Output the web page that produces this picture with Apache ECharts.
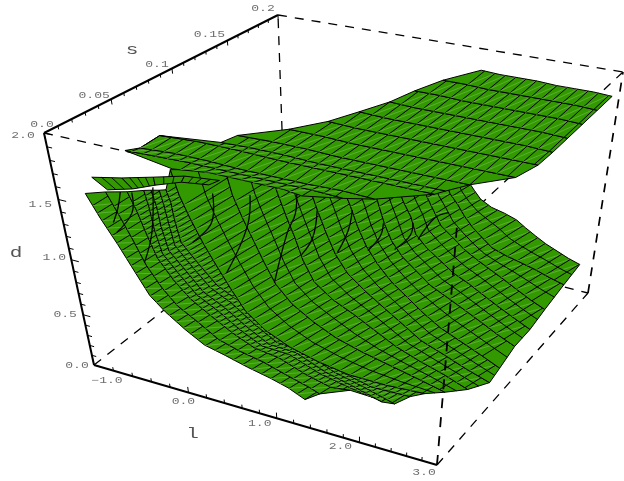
<!DOCTYPE html>
<html><head><meta charset="utf-8"><style>html,body{margin:0;background:#fff}#c{width:624px;height:481px}</style>
<script src="https://cdn.jsdelivr.net/npm/echarts@6/dist/echarts.min.js"></script></head><body><div id="c"></div>
<script>
// ---- data: l, s, d ----
var lTicks=[-1,0,1,2,3], sTicks=[0,0.05,0.1,0.15,0.2], dTicks=[0,0.5,1,1.5,2];
var lTickLabels=['\u22121.0','0.0','1.0','2.0','3.0'], sTickLabels=['0.0','0.05','0.1','0.15','0.2'], dTickLabels=['0.0','0.5','1.0','1.5','2.0'];
// lower sheet: one line per row, values x100
var lowerL=[
[-70,-59,-45,-31,-19,-4,16,36,58,83,108,128,147],
[-51,-42,-32,-22,-9,5,25,46,68,95,122,147,158],
[-31,-25,-20,-13,0,15,34,55,79,107,137,165,187],
[-16,-14,-14,-11,3,17,37,58,82,113,146,180,207],
[-11,-9,-10,-8,6,19,38,59,83,114,148,182,213],
[-5,-4,-5,-5,9,22,40,61,86,117,151,186,222],
[-2,-1,-4,-5,7,20,37,57,83,114,149,185,231],
[1,4,7,12,18,26,35,51,79,112,149,193,239],
[53,55,57,60,64,69,80,97,124,154,187,221,254],
[97,100,101,103,104,109,123,141,165,190,218,248,277],
[129,132,133,135,138,145,158,173,195,217,245,272,300],
[156,159,160,160,162,167,175,186,205,226,250,275,299],
[181,183,180,177,176,179,186,193,214,235,256,277,298],
[200,200,196,194,189,191,195,201,220,239,259,278,298],
[220,219,214,210,206,207,209,212,229,247,264,282,300],
[235,235,227,222,216,212,210,208,226,245,263,282,300],
[252,251,244,236,233,233,232,228,241,255,270,285,300]];
var lowerD=[
[154,135,115,94,77,66,55,46,42,37,33,29,23],
[158,141,121,100,83,70,60,49,44,40,34,29,26],
[161,146,127,106,89,75,64,53,45,42,34,29,31],
[164,149,129,108,91,76,65,52,43,42,33,28,25],
[164,150,131,109,92,76,65,51,41,40,30,24,18],
[164,151,133,112,93,77,66,50,39,38,27,21,14],
[163,151,132,111,92,74,62,45,33,32,20,14,15],
[179,156,133,110,89,67,46,29,20,14,10,10,12],
[187,164,141,119,96,74,55,39,30,24,19,14,9],
[194,173,150,127,104,82,65,51,42,33,26,20,13],
[200,183,160,137,115,95,78,62,52,42,35,28,22],
[200,187,165,142,120,100,81,64,54,45,38,31,24],
[200,186,163,140,118,98,80,62,55,48,41,34,28],
[200,185,163,141,117,97,79,60,54,47,40,34,28],
[200,186,164,142,120,101,81,63,57,51,45,39,34],
[200,185,162,141,119,97,76,55,51,48,45,41,38],
[198,183,161,140,120,102,83,62,57,52,48,44,41]];
var lowerSRow=[0,.006,.012,.018,.024,.03,.04,.05,.06,.064,.066,.08,.1,.12,.136,.16,.18];
var lowerSScale=[.35,.4,.5,.6,.7,.8,.9,1,1,1,1,1,1];
// heavier curves on the lower sheet, all at one s
var arcS=.012;
var arcL=[[-48,-53,-61],[-36,-39,-59],[-13,-21,-34],[48,44,22],[86,81,55],[133,131,122,106],[153,148,136],[188,184,173],[219,216,204],[248,246,231],[282,269,254]];
var arcD=[[153,139,124],[155,137,116],[164,123,95],[171,145,124],[177,149,104],[192,170,152,106],[177,153,136],[184,166,145],[179,167,153],[185,174,159],[200,193,172]];
// upper sheet: rows of constant s
var upperS=[.01,.02,.028,.046,.052,.064,.082,.1,.118,.136,.154,.172,.19];
var upperLStart=[.12,-.46,-.4,-.4,.16,.2,.54,.76,.9,1.04,1.12,1.24,1.48];
var upperLEnd=[1.4,1.72,1.96,2.4,2.46,2.6,2.92,3,3,3,3,3,3];
var upperD=[
[1.86,1.88,1.9,1.9,1.9,1.9,1.9,1.88],
[1.85,1.86,1.87,1.87,1.87,1.87,1.87,1.86],
[1.84,1.86,1.86,1.85,1.85,1.85,1.86,1.85],
[1.85,1.87,1.87,1.86,1.86,1.86,1.86,1.86],
[1.86,1.87,1.87,1.86,1.86,1.86,1.86,1.86],
[1.86,1.87,1.87,1.86,1.86,1.86,1.86,1.86],
[1.87,1.87,1.86,1.86,1.86,1.86,1.86,1.86],
[1.87,1.86,1.86,1.86,1.86,1.86,1.86,1.86],
[1.87,1.86,1.86,1.86,1.86,1.86,1.86,1.85],
[1.87,1.86,1.86,1.86,1.86,1.86,1.86,1.85],
[1.87,1.87,1.86,1.86,1.86,1.86,1.86,1.85],
[1.87,1.87,1.86,1.86,1.86,1.86,1.86,1.85],
[1.88,1.87,1.87,1.87,1.86,1.86,1.86,1.85]];
// small fold on the left
var flapL=[[-.6,-.44,-.28,-.12,.2],[-.46,-.32,-.2,-.04,.2]];
var flapS=[[0,.012,.026,.04,.044],[0,.01,.02,.03,.034]];
var flapD=[[1.7,1.66,1.62,1.58,1.58],[1.62,1.6,1.6,1.6,1.6]];

// ---- view of the box: where its eight corners appear ----
var view={O:[94,365],X:[437,465],Y:[285,215],XY:[588,293],Z:[44,133],XZ:[457,226],YZ:[278,15],XYZ:[623,72]};
function project(l,s,d){var u=(l+1)/4,v=s/0.2,w=d/2,r=[];
 for(var k=0;k<2;k++) r[k]=(1-w)*((1-v)*((1-u)*view.O[k]+u*view.X[k])+v*((1-u)*view.Y[k]+u*view.XY[k]))+w*((1-v)*((1-u)*view.Z[k]+u*view.XZ[k])+v*((1-u)*view.YZ[k]+u*view.XYZ[k]));
 return r;}
var GREEN='#339900',LIGHT='#6bb84a';
function warp(t,k){return t*(1+k)/(1+k*t);}
function mix(a,b,t){return [a[0]+(b[0]-a[0])*t,a[1]+(b[1]-a[1])*t];}
function line(a,b,w,c,dash){return {type:'line',silent:true,shape:{x1:a[0],y1:a[1],x2:b[0],y2:b[1]},style:{stroke:c||'#000',lineWidth:w,lineDash:dash||null}};}
function poly(pts){return {type:'polygon',silent:true,shape:{points:pts},style:{fill:GREEN,stroke:'#000',lineWidth:1,lineJoin:'round'}};}

function lowerNode(j,i){return project(lowerL[j][i]/100,lowerSRow[j]*lowerSScale[i],lowerD[j][i]/100);}
function upperNode(j,k){var n=upperD[j].length-1,l=upperLStart[j]+(upperLEnd[j]-upperLStart[j])*k/n;return project(l,upperS[j],upperD[j][k]);}
function upperDAt(j,l){var n=upperD[j].length-1,t=(l-upperLStart[j])/(upperLEnd[j]-upperLStart[j])*n,k=Math.min(n-1,Math.floor(t));return upperD[j][k]+(upperD[j][k+1]-upperD[j][k])*(t-k);}
var upperBands=upperS.slice(0,-1).map(function(_,j){return [j];});
var lowerBands=lowerL.slice(0,-1).map(function(_,j){return [j];});

var option={animation:false,backgroundColor:'#fff',
 grid:{left:0,right:0,top:0,bottom:0},
 xAxis:{type:'value',min:0,max:624,show:false},
 yAxis:{type:'value',min:0,max:481,inverse:true,show:false},
 series:[]};
function C(api,p){return api.coord(p);}
function custom(z,data,render){option.series.push({type:'custom',coordinateSystem:'cartesian2d',z:z,clip:false,data:data,encode:{x:0,y:0},renderItem:render});}

// the surface's rung texture: a fixed screen direction, walked along both rows of a band
function gauge(p){return .62*p[0]+p[1];}
function walk(row,q){for(var i=0;i<row.length-1;i++){var a=gauge(row[i]),b=gauge(row[i+1]);if((a<=q&&q<=b)||(b<=q&&q<=a))return mix(row[i],row[i+1],(q-a)/(b-a));}return null;}

// dashed back edges
var backEdges=[[[-1,0,0],[-1,.2,0]],[[-1,.2,0],[3,.2,0]],[[-1,.2,0],[-1,.2,2]],[[-1,.2,2],[3,.2,2]],[[-1,0,2],[3,0,2]],[[3,.2,2],[3,0,2]],[[3,0,0],[3,.2,0]],[[3,.2,0],[3,.2,2]]];
custom(1,backEdges.map(function(e,i){return [i];}),function(p,api){var e=backEdges[p.dataIndex];var a=C(api,project.apply(null,e[0])),b=C(api,project.apply(null,e[1]));return line(a,b,p.dataIndex>=7?1.7:1.3,'#000',[9,8]);});

// lower sheet
custom(2,lowerBands,function(p,api){var j=p.dataIndex,ra=[],rb=[],i;
  for(i=0;i<13;i++){ra.push(C(api,lowerNode(j,i)));rb.push(C(api,lowerNode(j+1,i)));}
  var ch=[poly(ra.concat(rb.slice().reverse()))];
  var step=(j>=2&&j<=6)?6:10.5,phase=j%2*step/3,prev=null;
  for(var q=200;q<720;q+=step){var a=walk(ra,q+phase),b=walk(rb,q+phase);if(!a||!b){prev=null;continue;}
   if(prev)ch.push(line(prev,b,0.7,LIGHT));
   ch.push(line(a,b,1));prev=a;}
  if(j>=7){var mid=ra.map(function(x,i){return mix(x,rb[i],.5);});
   ch.push({type:'polyline',silent:true,shape:{points:mid},style:{stroke:'#000',lineWidth:1,fill:null}});}
  return {type:'group',children:ch};});
// heavier curves
custom(3,arcL.map(function(a,i){return [i];}),function(p,api){var i=p.dataIndex;
  var pts=arcL[i].map(function(l,k){return C(api,project(l/100,arcS,arcD[i][k]/100));});
  return {type:'polyline',silent:true,shape:{points:pts,smooth:0.4},style:{stroke:'#000',lineWidth:1.3,fill:null}};});

// small fold
custom(4,flapL[0].slice(0,-1).map(function(_,i){return [i];}),function(p,api){var i=p.dataIndex;function n(r,k){return C(api,project(flapL[r][k],flapS[r][k],flapD[r][k]));}
  var a=n(0,i),b=n(0,i+1),e=n(1,i+1),d=n(1,i),ch=[poly([a,b,e,d])];
  var m=Math.max(1,Math.round(Math.hypot(a[0]-b[0],a[1]-b[1])/9));
  for(var k=1;k<m;k++)ch.push(line(mix(a,b,k/m),mix(d,e,k/m),0.9));
  return {type:'group',children:ch};});

// upper sheet
custom(5,upperBands,function(p,api){var j=p.dataIndex,pts=[],n=upperD[j].length,k;
  for(k=0;k<n;k++)pts.push(C(api,upperNode(j,k)));
  for(k=n-1;k>=0;k--)pts.push(C(api,upperNode(j+1,k)));
  var ch=[poly(pts)];
  var lo=Math.max(upperLStart[j],upperLStart[j+1]),hi=Math.min(upperLEnd[j],upperLEnd[j+1]),prev=null;
  for(var q=-30;q<=100;q++){var l=q*0.12-0.04;if(l<lo||l>hi)continue;
   var a=C(api,project(l,upperS[j],upperDAt(j,l))),b=C(api,project(l,upperS[j+1],upperDAt(j+1,l)));
   if(prev)ch.push(line(prev,b,0.7,LIGHT));
   ch.push(line(a,b,1));prev=a;}
  return {type:'group',children:ch};});

// front edges and ticks
var solid=[[[-1,0,0],[-1,0,2]],[[-1,0,0],[3,0,0]],[[-1,0,2],[-1,.2,2]]];
var frontDash=[[3,0,0],[3,0,2]];
var ticks=[];
function addTicks(n,kind){for(var i=0;i<=n;i++)ticks.push([kind,i/n,i%5==0]);}
addTicks(20,0);addTicks(20,1);addTicks(20,2);
function axisPoint(kind,t){ if(kind==0)return [-1+4*warp(t,.14),0,0]; if(kind==1)return [-1,.2*warp(t,.207),2]; return [-1,0,2*warp(t,-.17)];}
custom(6,[[0]],function(p,api){var ch=[];
  ch.push(line(C(api,project.apply(null,frontDash[0])),C(api,project.apply(null,frontDash[1])),1.8,'#000',[10,9]));
  solid.forEach(function(e){ch.push(line(C(api,project.apply(null,e[0])),C(api,project.apply(null,e[1])),2));});
  ticks.forEach(function(t){var q=axisPoint(t[0],t[1]),len=t[2]?1.6:1,e=q.slice();
   if(t[0]==0)e[2]+=.03*len; if(t[0]==1)e[2]-=.03*len; if(t[0]==2)e[0]+=.05*len;
   ch.push(line(C(api,project.apply(null,q)),C(api,project.apply(null,e)),1));});
  return {type:'group',children:ch};});

// labels
var FONT='9px "Liberation Mono"',GREY='#6e6e6e';
var labelItems=[];
var lOff=[[13,16],[-5,9],[-17,5],[-19,4],[-13,8]],sOff=[[-2,-8],[-17,-4],[-15,-4],[-18,-6],[-15,-6]],dOff=[[-17,1],[-18,0],[-17,-2],[-18,5],[-21,3]];
lTickLabels.forEach(function(s,i){labelItems.push({t:s,at:axisPoint(0,(lTicks[i]+1)/4),o:lOff[i]});});
sTickLabels.forEach(function(s,i){labelItems.push({t:s,at:axisPoint(1,sTicks[i]/.2),o:sOff[i]});});
dTickLabels.forEach(function(s,i){labelItems.push({t:s,at:axisPoint(2,dTicks[i]/2),o:dOff[i]});});
var axisNames=[{t:'l',at:[.5,0,0],o:[-30,32]},{t:'s',at:[-1,.1,2],o:[-29,-24]},{t:'d',at:[-1,0,1],o:[-53,4]}];
var allLabels=labelItems.concat(axisNames);
custom(7,allLabels.map(function(_,i){return [i];}),function(p,api){var it=allLabels[p.dataIndex],q=C(api,project.apply(null,it.at)),big=p.dataIndex>=labelItems.length;
  return {type:'text',silent:true,x:q[0]+it.o[0],y:q[1]+it.o[1],scaleX:big?1.5:1.45,style:{text:it.t,font:big?'14px "Liberation Mono"':FONT,fill:big?'#555':GREY,textAlign:'center',textVerticalAlign:'middle'}};});

echarts.init(document.getElementById('c'),null,{renderer:'canvas'}).setOption(option);
</script></body></html>
